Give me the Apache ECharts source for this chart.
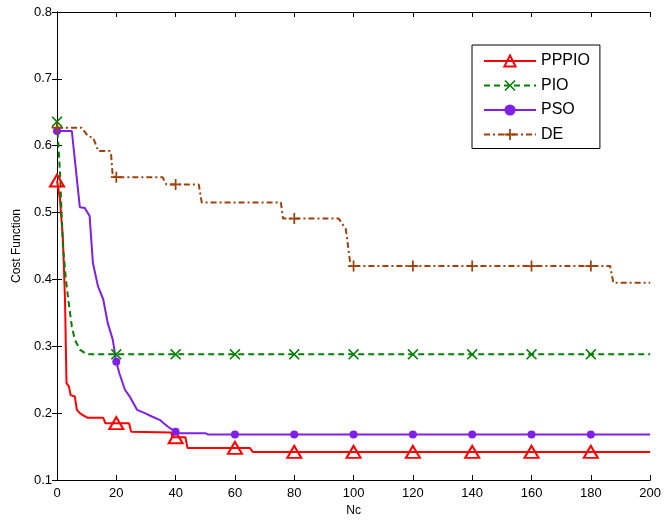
<!DOCTYPE html>
<html>
<head>
<meta charset="utf-8">
<script src="https://cdn.jsdelivr.net/npm/echarts@6/dist/echarts.min.js"></script>
<style>
html, body { margin: 0; padding: 0; background: #fff; }
#main { width: 664px; height: 522px; }
</style>
</head>
<body>
<div id="main"></div>
<script>
var fontName = 'Liberation Sans';
var seriesNames = ['PPPIO', 'PIO', 'PSO', 'DE'];

// [Nc, cost]
var pppio = [[0,0.548],[1,0.52],[2,0.46],[2.7,0.37],[3.2,0.245],[4,0.24],[4.6,0.227],[6,0.225],[6.7,0.205],
	[7.7,0.2],[8.7,0.197],[10.4,0.193],[15.6,0.193],[16.3,0.185],[20,0.185],[24.3,0.185],[25,0.172],
	[38.5,0.171],[39,0.164],[40,0.164],[43.3,0.164],[44,0.148],[60,0.148],[65,0.148],[66,0.142],
	[80,0.142],[100,0.142],[120,0.142],[140,0.142],[160,0.142],[180,0.142],[200,0.142]];
var pio = [[0,0.636],[1,0.56],[2,0.45],[3,0.40],[3.8,0.37],[5,0.33],[6,0.31],[7.7,0.295],[10,0.288],
	[20,0.288],[40,0.288],[60,0.288],[80,0.288],[100,0.288],[120,0.288],[140,0.288],[160,0.288],[180,0.288],[200,0.288]];
var pso = [[0,0.622],[5,0.622],[7.7,0.508],[9.4,0.507],[11,0.495],[12.1,0.425],[13.8,0.39],[15.6,0.37],
	[17.1,0.335],[18.8,0.31],[20,0.277],[21,0.26],[22.9,0.235],[24.5,0.225],[27,0.205],[29.6,0.2],
	[32,0.195],[34.6,0.19],[37.3,0.18],[40,0.172],[41,0.17],[50,0.17],[51,0.168],[60,0.168],[80,0.168],
	[100,0.168],[120,0.168],[140,0.168],[160,0.168],[180,0.168],[200,0.168]];
var de = [[0,0.627],[8.3,0.627],[10.5,0.614],[12.2,0.612],[13.9,0.592],[17.8,0.592],[18.2,0.589],[18.8,0.554],
	[20,0.553],[35.6,0.553],[36.9,0.542],[40,0.542],[47.8,0.542],[48.8,0.515],[75.5,0.515],[76.2,0.491],
	[80,0.491],[95,0.491],[97.4,0.475],[99,0.42],[100,0.42],[120,0.42],[140,0.42],[160,0.42],[180,0.42],
	[186.5,0.42],[187.6,0.395],[200,0.395]];

// marker positions (Nc) for each curve
var pppioMarks = [0,20,40,60,80,100,120,140,160,180];
var pioMarks = [0,20,40,60,80,100,120,140,160,180];
var psoMarks = [0,20,40,60,80,100,120,140,160,180];
var deMarks = [0,20,40,80,100,120,140,160,180];

var xSym = 'path://M0,1L1,0L5,4L9,0L10,1L6,5L10,9L9,10L5,6L1,10L0,9L4,5Z';
var plusSym = 'path://M4.2,0H5.8V4.2H10V5.8H5.8V10H4.2V5.8H0V4.2H4.2Z';

function toData(pts, marks) {
	var out = [];
	for (var i = 0; i < pts.length; i++) {
		var item = { value: pts[i] };
		if (marks.indexOf(pts[i][0]) < 0) item.symbol = 'none';
		out.push(item);
	}
	return out;
}

var axisStyle = { lineStyle: { color: '#000', width: 1 } };
var tickIn = { show: true, inside: true, length: 5, lineStyle: { color: '#000' } };

var myChart = echarts.init(document.getElementById('main'));
var option = {
	animation: false,
	backgroundColor: '#fff',
	textStyle: { fontFamily: fontName },
	grid: { left: 57, right: 12, top: 12, bottom: 42 },
	legend: {
		data: seriesNames,
		orient: 'vertical',
		left: 472,
		top: 45,
		itemWidth: 52,
		itemHeight: 14,
		itemGap: 8.5,
		padding: [8, 10, 6, 11],
		borderColor: '#000',
		borderWidth: 1,
		backgroundColor: '#fff',
		textStyle: { fontSize: 16, color: '#000', fontFamily: fontName }
	},
	xAxis: [{
		type: 'value',
		min: 0,
		max: 200,
		interval: 20,
		name: 'Nc',
		nameLocation: 'middle',
		nameGap: 24,
		nameTextStyle: { fontSize: 12, color: '#000' },
		axisLine: axisStyle,
		axisTick: tickIn,
		axisLabel: { fontSize: 13, color: '#000', margin: 7 },
		splitLine: { show: false }
	}, {
		type: 'value',
		position: 'top',
		min: 0,
		max: 200,
		interval: 20,
		axisLine: axisStyle,
		axisTick: tickIn,
		axisLabel: { show: false },
		splitLine: { show: false }
	}],
	yAxis: [{
		type: 'value',
		min: 0.1,
		max: 0.8,
		interval: 0.1,
		name: 'Cost Function',
		nameLocation: 'middle',
		nameGap: 34,
		nameTextStyle: { fontSize: 12, color: '#000' },
		axisLine: axisStyle,
		axisTick: tickIn,
		axisLabel: {
			fontSize: 13, color: '#000', margin: 5,
			formatter: function (v) { return v.toFixed(1); }
		},
		splitLine: { show: false }
	}, {
		type: 'value',
		position: 'right',
		min: 0.1,
		max: 0.8,
		interval: 0.1,
		axisLine: axisStyle,
		axisTick: tickIn,
		axisLabel: { show: false },
		splitLine: { show: false }
	}],
	series: [{
		name: 'PPPIO',
		type: 'line',
		data: toData(pppio, pppioMarks),
		showAllSymbol: true,
		symbol: 'triangle',
		symbolSize: [14, 12],
		lineStyle: { color: '#ff0000', width: 2 },
		itemStyle: { color: 'rgba(255,255,255,0)', borderColor: '#ff0000', borderWidth: 2 }
	}, {
		name: 'PIO',
		type: 'line',
		data: toData(pio, pioMarks),
		showAllSymbol: true,
		symbol: xSym,
		symbolSize: 11,
		lineStyle: { color: '#008000', width: 2, type: [6, 4] },
		itemStyle: { color: '#008000' }
	}, {
		name: 'PSO',
		type: 'line',
		data: toData(pso, psoMarks),
		showAllSymbol: true,
		symbol: 'circle',
		symbolSize: 8,
		lineStyle: { color: '#7f1fe8', width: 2 },
		itemStyle: { color: '#7f1fe8' }
	}, {
		name: 'DE',
		type: 'line',
		data: toData(de, deMarks),
		showAllSymbol: true,
		symbol: plusSym,
		symbolSize: 11,
		lineStyle: { color: '#a0400a', width: 2, type: [6, 3, 2, 3] },
		itemStyle: { color: '#a0400a' }
	}]
};
myChart.setOption(option);
</script>
</body>
</html>
